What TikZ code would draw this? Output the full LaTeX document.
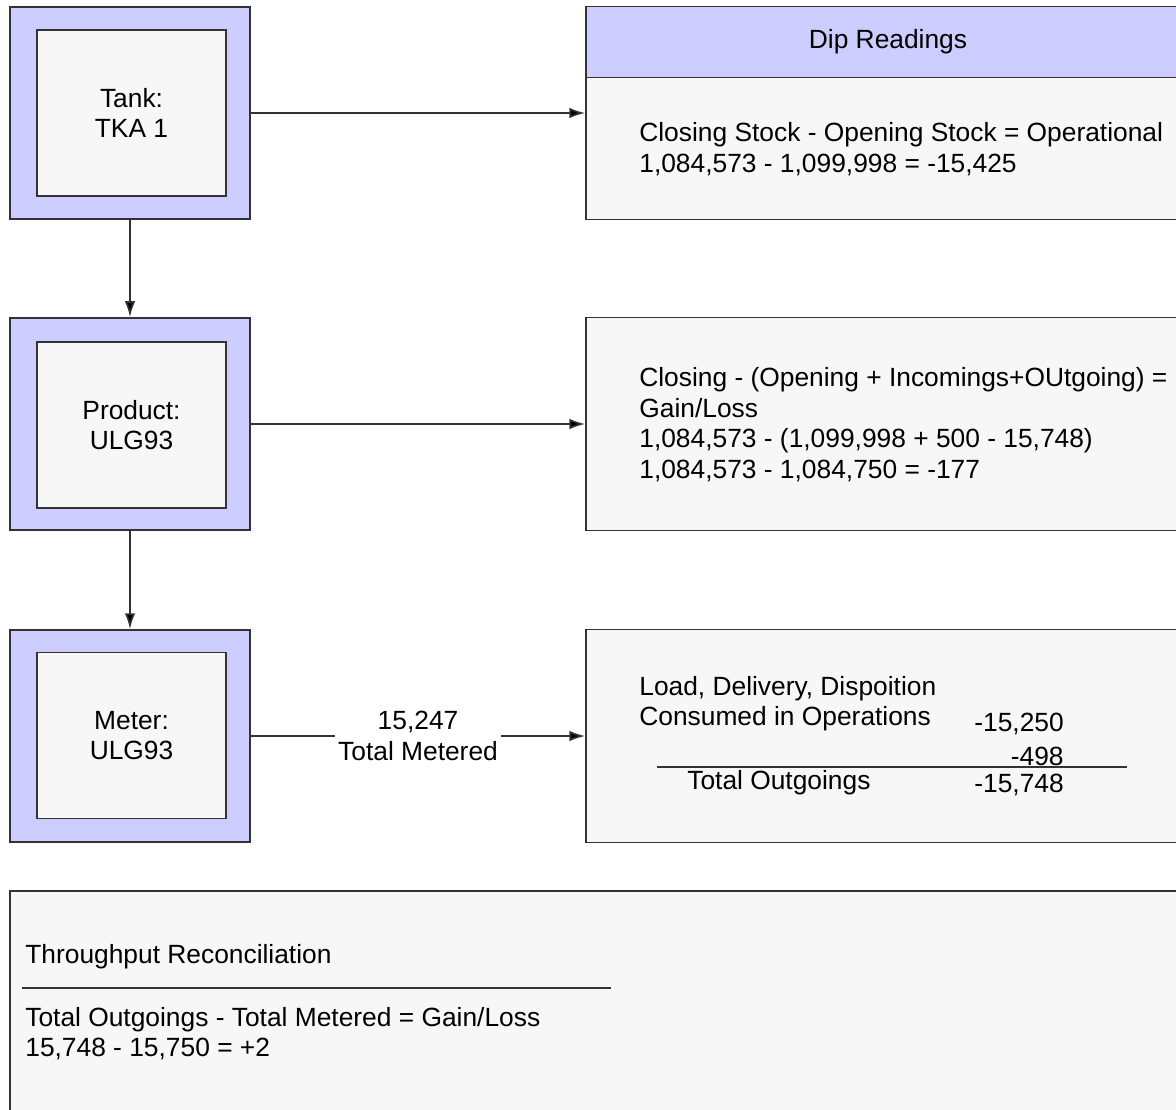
\documentclass[tikz,border=0pt]{standalone}
\usepackage{fontspec}
\setmainfont{Liberation Sans}
\usetikzlibrary{arrows.meta,positioning}

\definecolor{lavender}{HTML}{CCCCFF}
\definecolor{paper}{HTML}{F7F7F7}
\definecolor{ink}{HTML}{333333}
\newcommand{\diagfont}{\fontsize{15}{17.4}\selectfont}

\tikzset{
  outerbox/.style={draw=ink,fill=lavender,line width=1.1pt,minimum width=4.8cm,minimum height=4.24cm},
  innerbox/.style={draw=ink,fill=paper,line width=1.1pt,minimum width=3.78cm,minimum height=3.32cm,align=center,font=\diagfont},
  calcbox/.style={draw=ink,fill=paper,line width=1.1pt,minimum width=12.08cm,minimum height=4.26cm},
  headbox/.style={draw=ink,fill=lavender,line width=1.1pt,minimum width=12.08cm,minimum height=1.42cm,font=\diagfont},
  calctext/.style={align=left,inner sep=0pt,font=\diagfont},
  flow/.style={-{Latex[length=9pt,width=6pt]},draw=ink,line width=0.9pt},
  rule/.style={draw=ink,line width=0.9pt}
}

\begin{document}
\begin{tikzpicture}[x=0.02cm,y=-0.02cm]
\clip (0,0) rectangle (1176,1109);

% left column
\node[outerbox] (tank) at (130,113) {};
\node[innerbox] (tankin) at (131.5,113) {Tank:\\TKA 1};
\node[outerbox] (product) at (130,424) {};
\node[innerbox] (productin) at (131.5,425) {Product:\\ULG93};
\node[outerbox] (meter) at (130,736) {};
\node[innerbox] (meterin) at (131.5,735.5) {Meter:\\ULG93};

% right column
\node[calcbox] (dip) at (888,113) {};
\node[headbox,anchor=north west] (diphead) at (dip.north west) {Dip Readings};
\node[calctext,anchor=west] (diptext) at (639,149) {Closing Stock - Opening Stock = Operational\\1,084,573 - 1,099,998 = -15,425};

\node[calcbox] (gain) at (888,424) {};
\node[calctext,anchor=west] (gaintext) at (639,424.5) {Closing - (Opening + Incomings+OUtgoing) =\\Gain/Loss\\1,084,573 - (1,099,998 + 500 - 15,748)\\1,084,573 - 1,084,750 = -177};

\node[calcbox] (outgo) at (888,736) {};
\node[calctext,anchor=west] (outgotext) at (639,703.5) {Load, Delivery, Dispoition\\Consumed in Operations};
\node[calctext,anchor=west] (consumed) at (974,724) {-15,250};
\node[calctext,anchor=east] (loads) at (1064,756) {-498};
\node[calctext,anchor=west] (totalout) at (687,783) {Total Outgoings};
\node[calctext,anchor=west] (totalval) at (974,785) {-15,748};
\path[rule] (657,767) -- (1127,767);

% reconciliation
\node[calcbox,minimum width=23.6cm,minimum height=4.58cm] (recon) at (600,1005.5) {};
\node[calctext,anchor=west] (recontitle) at (25,957) {Throughput Reconciliation};
\path[rule] (22,988) -- (611,988);
\node[calctext,anchor=west] (recontext) at (25,1033.5) {Total Outgoings - Total Metered = Gain/Loss\\15,748 - 15,750 = +2};

% connectors
\path[flow] (tank) edge (product);
\path[flow] (product) edge (meter);
\path[flow] (tank) edge (dip);
\path[flow] (product) edge (gain);
\path[flow] (meter) edge node[fill=white,align=center,inner sep=2pt,font=\diagfont] (metered) {15,247\\Total Metered} (outgo);
\end{tikzpicture}
\end{document}
